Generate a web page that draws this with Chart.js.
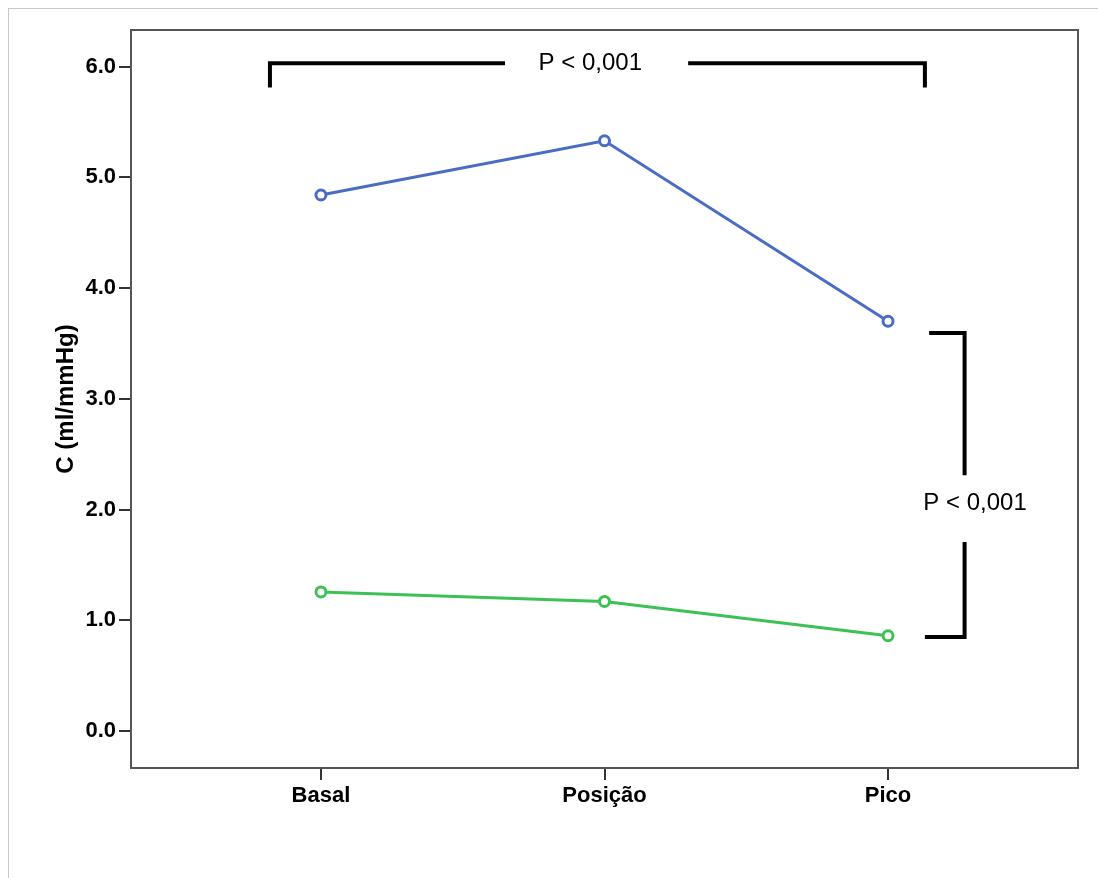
<!DOCTYPE html>
<html>
<head>
<meta charset="utf-8">
<script src="https://cdn.jsdelivr.net/npm/chart.js@4/dist/chart.umd.min.js"></script>
<style>
  html, body { margin: 0; padding: 0; background: #fff; overflow: hidden; }
  #frame { position: absolute; left: 8px; top: 8px; width: 1100px; height: 880px; border: 1px solid #c8c8c8; }
  #wrap { position: absolute; left: 0; top: 0; width: 1098px; height: 878px; }
</style>
</head>
<body>
<div id="frame"></div>
<div id="wrap"><canvas id="chart"></canvas></div>
<script>
const categories = ["Basal", "Posição", "Pico"];
const upperSeries = [4.84, 5.33, 3.70];
const lowerSeries = [1.256, 1.17, 0.86];
const yTicks = [0, 1, 2, 3, 4, 5, 6];
const pLabel = "P < 0,001";

// brackets in data units (x = category index, y = C)
const topBracket = { x1: -0.18, x2: 2.13, y: 6.03, yLeg: 5.81, gap1: 0.649, gap2: 1.295, tx: 0.95 };
const sideBracket = { x: 2.27, y1: 3.595, y2: 0.85, arm1: 2.145, arm2: 2.13, gap1: 2.31, gap2: 1.707, ty: 2.06, tx: 2.307 };

const toPoints = arr => arr.map((v, i) => ({ x: i, y: v }));

const bracketPlugin = {
  id: "brackets",
  afterDatasetsDraw(chart) {
    const ctx = chart.ctx;
    const xs = chart.scales.x, ys = chart.scales.y;
    const px = v => xs.getPixelForValue(v);
    const py = v => ys.getPixelForValue(v);
    const a = chart.chartArea;

    ctx.save();
    // plot frame
    ctx.strokeStyle = "#555";
    ctx.lineWidth = 2;
    ctx.strokeRect(a.left, a.top, a.right - a.left, a.bottom - a.top);

    ctx.strokeStyle = "#000";
    ctx.lineWidth = 4;
    ctx.lineCap = "butt";
    ctx.lineJoin = "miter";

    const t = topBracket;
    ctx.beginPath();
    ctx.moveTo(px(t.x1), py(t.yLeg));
    ctx.lineTo(px(t.x1), py(t.y));
    ctx.lineTo(px(t.gap1), py(t.y));
    ctx.moveTo(px(t.gap2), py(t.y));
    ctx.lineTo(px(t.x2), py(t.y));
    ctx.lineTo(px(t.x2), py(t.yLeg));
    ctx.stroke();

    const s = sideBracket;
    ctx.beginPath();
    ctx.moveTo(px(s.arm1), py(s.y1));
    ctx.lineTo(px(s.x), py(s.y1));
    ctx.lineTo(px(s.x), py(s.gap1));
    ctx.moveTo(px(s.x), py(s.gap2));
    ctx.lineTo(px(s.x), py(s.y2));
    ctx.lineTo(px(s.arm2), py(s.y2));
    ctx.stroke();

    ctx.fillStyle = "#000";
    ctx.font = "24px 'Liberation Sans', Arial, sans-serif";
    ctx.textAlign = "center";
    ctx.textBaseline = "middle";
    ctx.fillText(pLabel, px(t.tx), py(t.y));
    ctx.fillText(pLabel, px(s.tx), py(s.ty));
    ctx.restore();
  }
};

const tickFont = { family: "'Liberation Sans', Arial, sans-serif", size: 22, weight: "bold" };

new Chart(document.getElementById("chart"), {
  type: "line",
  data: {
    datasets: [
      {
        label: "upper",
        data: toPoints(upperSeries),
        borderColor: "#4a6cc2",
        borderWidth: 3,
        pointRadius: 5,
        pointBorderWidth: 3,
        pointBackgroundColor: "#fff",
        pointBorderColor: "#4a6cc2",
        tension: 0
      },
      {
        label: "lower",
        data: toPoints(lowerSeries),
        borderColor: "#3ec154",
        borderWidth: 3,
        pointRadius: 5,
        pointBorderWidth: 3,
        pointBackgroundColor: "#fff",
        pointBorderColor: "#3ec154",
        tension: 0
      }
    ]
  },
  options: {
    responsive: true,
    maintainAspectRatio: false,
    animation: false,
    layout: { padding: { left: 52, top: 30, right: 20, bottom: 60 } },
    plugins: { legend: { display: false }, tooltip: { enabled: false } },
    scales: {
      x: {
        type: "linear",
        min: -0.67,
        max: 2.67,
        afterBuildTicks: sc => { sc.ticks = categories.map((c, i) => ({ value: i })); },
        afterFit: sc => { sc.height = 50; },
        ticks: {
          callback: v => categories[v],
          color: "#000",
          font: tickFont,
          padding: 3,
          autoSkip: false,
          maxRotation: 0
        },
        grid: { drawOnChartArea: false, drawTicks: true, tickLength: 12, color: "#333", lineWidth: 2 },
        border: { display: true, color: "#555", width: 2 }
      },
      y: {
        min: -0.334,
        max: 6.33,
        afterBuildTicks: sc => { sc.ticks = yTicks.map(v => ({ value: v })); },
        afterFit: sc => { sc.width = 79; },
        ticks: {
          callback: v => v.toFixed(1),
          color: "#000",
          font: tickFont,
          padding: 3
        },
        title: {
          display: true,
          text: "C (ml/mmHg)",
          color: "#000",
          font: { family: "'Liberation Sans', Arial, sans-serif", size: 24, weight: "bold" },
          padding: { top: 0, bottom: 0 }
        },
        grid: { drawOnChartArea: false, drawTicks: true, tickLength: 12, color: "#333", lineWidth: 2 },
        border: { display: true, color: "#555", width: 2 }
      }
    }
  },
  plugins: [bracketPlugin]
});
</script>
</body>
</html>
